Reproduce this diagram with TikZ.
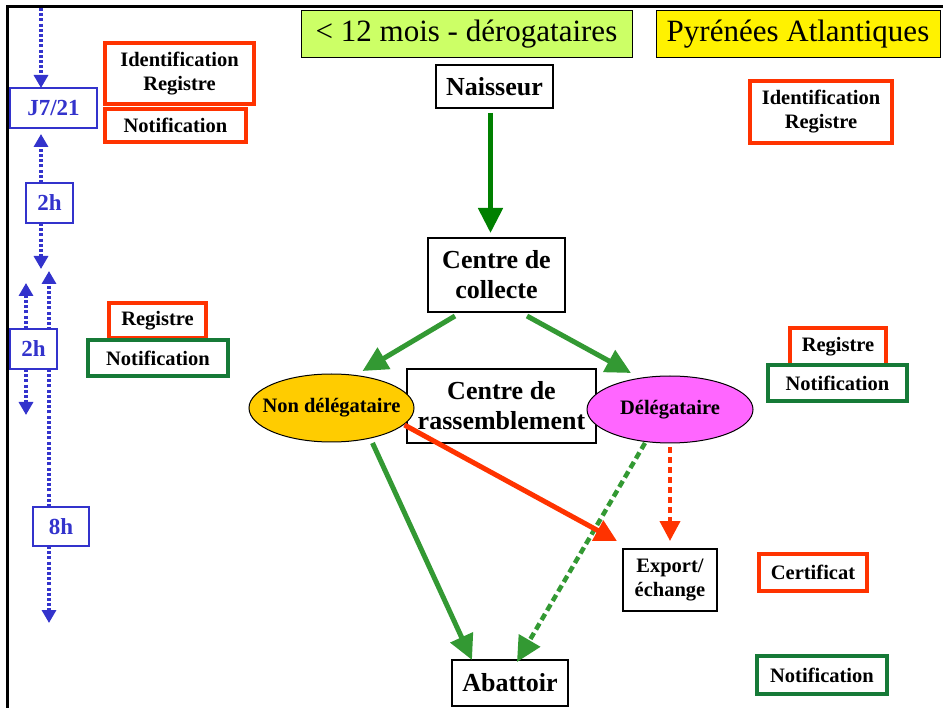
\documentclass[tikz,border=0pt]{standalone}
\usepackage{fontspec}
\setmainfont{Liberation Serif}
\usetikzlibrary{arrows.meta,shapes.geometric,calc}

\definecolor{darkflow}{RGB}{0,128,0}
\definecolor{midgreen}{RGB}{51,153,51}
\definecolor{alertred}{RGB}{255,51,0}
\definecolor{boxgreen}{RGB}{22,122,55}
\definecolor{timeblue}{RGB}{51,51,204}
\definecolor{limefill}{RGB}{204,255,102}
\definecolor{goldfill}{RGB}{255,204,0}
\definecolor{pinkfill}{RGB}{255,102,255}

\begin{document}
\begin{tikzpicture}[x=1pt,y=-1pt,
  every node/.style={inner sep=0pt, outer sep=0pt, align=center},
  bigtxt/.style={font=\fontsize{26}{30}\selectfont\bfseries},
  smalltxt/.style={font=\fontsize{20.5}{24}\selectfont\bfseries},
  heading/.style={draw=black, line width=1pt, font=\fontsize{31}{36}\selectfont},
  stage/.style={draw=black, line width=1.2pt, fill=white, bigtxt},
  holder/.style={ellipse, draw=black, line width=1pt, smalltxt},
  redtag/.style={draw=alertred, line width=4pt, fill=white, smalltxt},
  greentag/.style={draw=boxgreen, line width=4pt, fill=white, smalltxt},
  timetag/.style={draw=timeblue, line width=1.2pt, fill=white, text=timeblue,
    font=\fontsize{23}{27}\selectfont\bfseries},
  timeline/.style={timeblue, line width=3.2pt, dash pattern=on 3pt off 2.2pt,
    -{Triangle[length=13pt,width=14pt]}},
  flow/.style={line width=5pt, -{Triangle[length=25pt,width=24pt]}},
  redflow/.style={alertred, line width=5pt, -{Triangle[length=22pt,width=22pt]}},
]
\useasboundingbox (0,0) rectangle (943,708);

% frame
\draw[line width=3pt] (943,6.5) -- (7.5,6.5) -- (7.5,708);

% headings
\node[heading, fill=limefill, minimum width=331pt, minimum height=47pt] (t1) at (466.5,34.5) {< 12 mois - dérogataires};
\node[heading, fill=yellow, minimum width=284pt, minimum height=47pt] (t2) at (798,34.5) {Pyrénées Atlantiques};

% main stages
\node[stage, minimum width=117pt, minimum height=43pt] (nai) at (494.5,86.5) {Naisseur};
\node[stage, minimum width=137pt, minimum height=74pt] (col) at (496.5,275) {Centre de\\collecte};
\node[stage, minimum width=189pt, minimum height=74pt] (ras) at (501.5,406) {Centre de\\rassemblement};
\node[holder, fill=goldfill, minimum width=165pt, minimum height=68pt] (nd) at (331.5,408) {\makebox[0pt]{Non délégataire}};
\node[holder, fill=pinkfill, minimum width=166pt, minimum height=67pt] (dl) at (670,409.5) {\makebox[0pt]{Délégataire}};
\node[stage, smalltxt, minimum width=94pt, minimum height=62pt] (ex) at (670,580) {Export/\\échange};
\node[stage, minimum width=116pt, minimum height=46pt] (ab) at (510,683) {Abattoir};

% obligations beside the stages
\node[redtag, minimum width=149pt, minimum height=61pt] (idl) at (179.5,73.5) {Identification\\Registre};
\node[redtag, minimum width=141pt, minimum height=33pt] (nl) at (175.5,125.5) {Notification};
\node[redtag, minimum width=142pt, minimum height=62pt] (idr) at (821,112) {Identification\\Registre};
\node[redtag, minimum width=97pt, minimum height=35pt] (rl) at (157.5,320.5) {Registre};
\node[greentag, minimum width=140pt, minimum height=36pt] (ngl) at (158,358) {Notification};
\node[redtag, minimum width=96pt, minimum height=37pt] (rr) at (838,346.5) {Registre};
\node[greentag, minimum width=139pt, minimum height=36pt] (ngr) at (837.5,383) {Notification};
\node[redtag, minimum width=108pt, minimum height=37pt] (cert) at (813,572.5) {Certificat};
\node[greentag, minimum width=130pt, minimum height=38pt] (ngb) at (822,675) {Notification};

% time line
\node[timetag, minimum width=87pt, minimum height=40pt] (j7) at (53.5,108) {J7/21};
\node[timetag, minimum width=47pt, minimum height=40pt] (h2a) at (49.5,203) {2h};
\node[timetag, minimum width=56pt, minimum height=39pt] (h8) at (61,526.5) {8h};

\coordinate (b0) at (41,8);
\coordinate (b1) at (41,269);
\coordinate (b2) at (49,271);
\coordinate (b3) at (26,283);
\coordinate (b4) at (26,415);
\coordinate (b5) at (49,623);

\draw[timeline] (b0) -- (b0 |- j7.north);
\draw[timeline] (h2a.north -| b0) -- ($(j7.south -| b0)+(0,6)$);
\draw[timeline] (h2a.south -| b0) -- (b1);
\draw[timeline] (h8.north -| b2) -- (b2);
\draw[timeline] (h8.south -| b2) -- (b5);

\node[timetag, minimum width=47pt, minimum height=40pt] (h2b) at (33.5,349) {2h};
\draw[timeline] (h2b.north -| b3) -- (b3);
\draw[timeline] (h2b.south -| b4) -- (b4);

% flows between stages
\draw[flow, darkflow] ($(nai.south)+(-4,5)$) -- ($(col.north)+(-6,-5)$);
\draw[flow, midgreen] ($(col.south)+(-41.5,4)$) -- ($(nd.north)+(31,-3)$);
\draw[flow, midgreen] ($(col.south)+(30.5,4)$) -- ($(dl.north)+(-39,-3)$);
\draw[flow, midgreen] ($(nd.center)+(41,35)$) -- ($(ab.north)+(-38,0)$);
\draw[flow, midgreen, line width=4.5pt, dash pattern=on 7pt off 4pt] ($(dl.south)+(-25,0)$) -- ($(ab.north)+(7,2)$);
\draw[redflow] ($(nd.center)+(73,17)$) -- ($(ex.north west)+(-6,-8)$);
\draw[redflow, line width=4pt, dash pattern=on 6pt off 4pt, -{Triangle[length=20pt,width=20pt]}] ($(dl.south)+(0,4)$) -- ($(ex.north)+(0,-8)$);
\end{tikzpicture}
\end{document}
